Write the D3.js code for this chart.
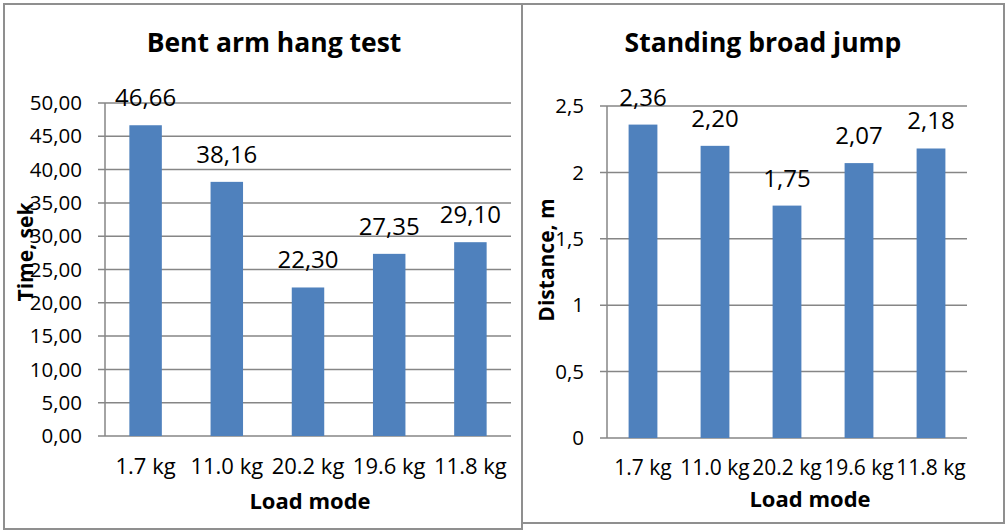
<!DOCTYPE html>
<html>
<head>
<meta charset="utf-8">
<script src="https://cdn.jsdelivr.net/npm/d3@7"></script>
<style>
  body { margin: 0; background: #fff; }
  svg { display: block; font-family: 'Open Sans', sans-serif; }
  .grid line { stroke: #868686; stroke-width: 1.5; }
  .panel { fill: none; stroke: #8f8f8f; stroke-width: 2; }
</style>
</head>
<body>
<svg id="chart" width="1008" height="530"></svg>
<script>
// data
var loadModes = ['1.7 kg', '11.0 kg', '20.2 kg', '19.6 kg', '11.8 kg'];
var hangTime = [46.66, 38.16, 22.30, 27.35, 29.10];
var jumpDistance = [2.36, 2.20, 1.75, 2.07, 2.18];
var hangTicks = [0, 5, 10, 15, 20, 25, 30, 35, 40, 45, 50];
var jumpTicks = [0, 0.5, 1, 1.5, 2, 2.5];

var svg = d3.select('#chart');
var barColor = '#4f81bd';

// panel frames
svg.append('rect').attr('class', 'panel').attr('x', 4).attr('y', 4).attr('width', 518).attr('height', 525);
svg.append('rect').attr('class', 'panel').attr('x', 522).attr('y', 4).attr('width', 482).attr('height', 519);

function drawChart(opts) {
    var g = svg.append('g');

    var x = d3.scaleBand()
        .domain(loadModes)
        .range([opts.left, opts.right]);

    var y = d3.scaleLinear()
        .domain([0, opts.max])
        .range([opts.bottom, opts.top]);

    // horizontal gridlines + tick marks
    g.append('g')
        .attr('class', 'grid')
        .selectAll('line')
        .data(opts.ticks)
        .enter()
        .append('line')
        .attr('x1', opts.left - 7)
        .attr('x2', opts.right)
        .attr('y1', function (d) { return y(d); })
        .attr('y2', function (d) { return y(d); });

    // vertical axis line
    g.append('line')
        .attr('x1', opts.left).attr('x2', opts.left)
        .attr('y1', opts.top).attr('y2', opts.bottom)
        .style('stroke', '#868686').style('stroke-width', 1.5);

    // tick labels
    g.selectAll('.ytick')
        .data(opts.ticks)
        .enter()
        .append('text')
        .attr('x', opts.left - 23)
        .attr('y', function (d) { return y(d); })
        .attr('dy', '0.35em')
        .attr('text-anchor', 'end')
        .style('font-size', '20.5px')
        .text(opts.tickFormat);

    var bw = x.bandwidth() * 0.4;

    g.selectAll('.bar')
        .data(opts.values)
        .enter()
        .append('rect')
        .attr('x', function (d, i) { return x(loadModes[i]) + (x.bandwidth() - bw) / 2; })
        .attr('y', function (d) { return y(d); })
        .attr('width', bw)
        .attr('height', function (d) { return y(0) - y(d); })
        .style('fill', barColor);

    // value labels
    g.selectAll('.val')
        .data(opts.values)
        .enter()
        .append('text')
        .attr('x', function (d, i) { return x(loadModes[i]) + x.bandwidth() / 2; })
        .attr('y', function (d) { return y(d) - 19; })
        .attr('text-anchor', 'middle')
        .style('font-size', '24px')
        .text(function (d) { return d.toFixed(2).replace('.', ','); });

    // category labels
    g.selectAll('.cat')
        .data(loadModes)
        .enter()
        .append('text')
        .attr('x', function (d) { return x(d) + x.bandwidth() / 2; })
        .attr('y', opts.catY)
        .attr('text-anchor', 'middle')
        .style('font-size', opts.catSize)
        .text(function (d) { return d; });

    g.append('text')
        .attr('x', opts.titleX).attr('y', 52)
        .attr('text-anchor', 'middle')
        .style('font-size', '26.5px').style('font-weight', 'bold')
        .text(opts.title);

    g.append('text')
        .attr('x', opts.xTitleX).attr('y', opts.xTitleY)
        .attr('text-anchor', 'middle')
        .style('font-size', '22px').style('font-weight', 'bold')
        .text('Load mode');

    g.append('text')
        .attr('transform', 'translate(' + opts.yTitleX + ',' + opts.yTitleY + ') rotate(-90)')
        .attr('text-anchor', 'middle')
        .attr('dy', '0.35em')
        .style('font-size', '21px').style('font-weight', 'bold')
        .text(opts.yTitle);
}

drawChart({
    left: 105, right: 511, top: 103, bottom: 436,
    max: 50, ticks: hangTicks, values: hangTime,
    tickFormat: function (d) { return d.toFixed(2).replace('.', ','); },
    catY: 474, catSize: '22px',
    title: 'Bent arm hang test', titleX: 274,
    xTitleX: 310, xTitleY: 509,
    yTitle: 'Time, sek', yTitleX: 26, yTitleY: 252
});

drawChart({
    left: 607, right: 967, top: 106, bottom: 438,
    max: 2.5, ticks: jumpTicks, values: jumpDistance,
    tickFormat: function (d) { return String(d).replace('.', ','); },
    catY: 475, catSize: '21px',
    title: 'Standing broad jump', titleX: 763,
    xTitleX: 810, xTitleY: 507,
    yTitle: 'Distance, m', yTitleX: 547, yTitleY: 260
});
</script>
</body>
</html>
